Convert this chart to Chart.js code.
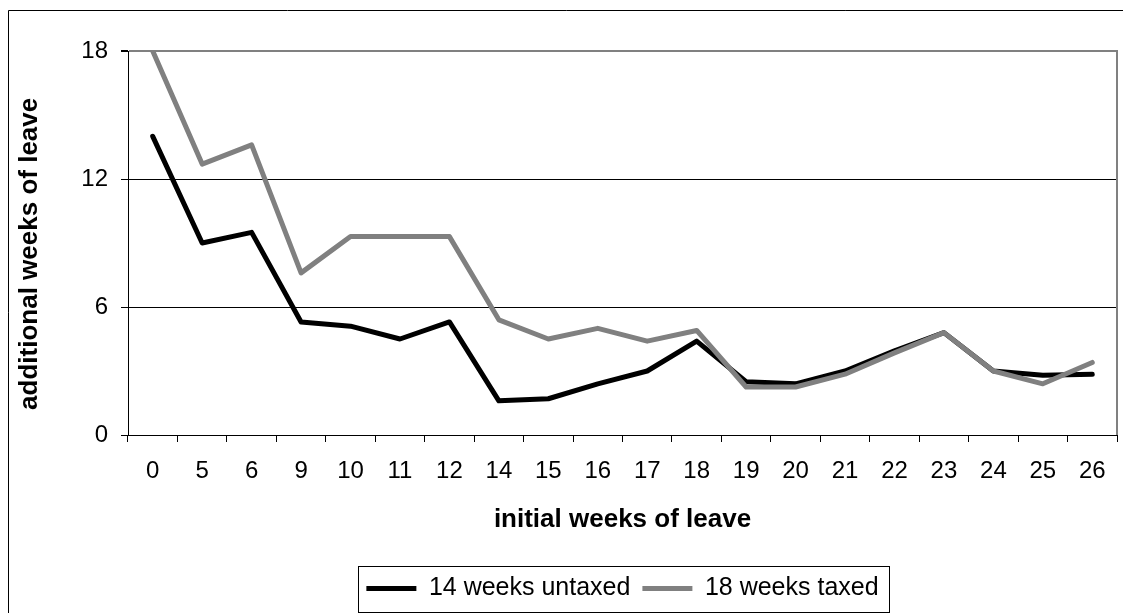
<!DOCTYPE html>
<html>
<head>
<meta charset="utf-8">
<script src="https://cdn.jsdelivr.net/npm/chart.js@4.4.1/dist/chart.umd.min.js"></script>
<style>
  html, body { margin: 0; padding: 0; background: #fff; }
  #wrap { width: 1123px; height: 613px; position: relative; }
</style>
</head>
<body>
<div id="wrap"><canvas id="c" width="1123" height="613"></canvas></div>
<script>
// Initial weeks of leave already taken (category axis)
const initialWeeks = ['0','5','6','9','10','11','12','14','15','16','17','18','19','20','21','22','23','24','25','26'];
// Additional weeks of leave, per scenario
const untaxed14 = [14.0, 9.0, 9.5, 5.3, 5.1, 4.5, 5.3, 1.6, 1.7, 2.4, 3.0, 4.4, 2.5, 2.4, 3.0, 3.95, 4.8, 3.0, 2.8, 2.85];
const taxed18   = [18.0, 12.7, 13.6, 7.6, 9.3, 9.3, 9.3, 5.4, 4.5, 5.0, 4.4, 4.9, 2.25, 2.25, 2.85, 3.85, 4.8, 3.0, 2.4, 3.4];
const yTicks = [0, 6, 12, 18];

const FONT = "'Liberation Sans', Arial, Helvetica, sans-serif";

// Frame around the whole chart, gray right edge of the plot, box around the legend
const framePlugin = {
  id: 'frames',
  beforeDraw(chart) {
    const ctx = chart.ctx;
    ctx.save();
    ctx.fillStyle = '#fff';
    ctx.fillRect(0, 0, chart.width, chart.height);
    ctx.strokeStyle = '#000';
    ctx.lineWidth = 1;
    ctx.beginPath();
    ctx.moveTo(8.5, chart.height + 2);
    ctx.lineTo(8.5, 10.5);
    ctx.lineTo(chart.width + 2, 10.5);
    ctx.stroke();
    ctx.restore();
  },
  afterDraw(chart) {
    const ctx = chart.ctx;
    const a = chart.chartArea;
    ctx.save();
    ctx.strokeStyle = '#808080';
    ctx.lineWidth = 2;
    ctx.beginPath();
    ctx.moveTo(a.right, a.top - 1);
    ctx.lineTo(a.right, a.bottom);
    ctx.stroke();
    const lg = chart.legend;
    if (lg && lg.legendHitBoxes && lg.legendHitBoxes.length) {
      const hb = lg.legendHitBoxes;
      const first = hb[0], last = hb[hb.length - 1];
      const left = Math.round(first.left - 8) + 0.5;
      const right = Math.round(last.left + last.width + 10) + 0.5;
      const cy = first.top + first.height / 2;
      const top = Math.round(cy - 23) + 0.5;
      const bottom = Math.round(cy + 23) + 0.5;
      ctx.strokeStyle = '#000';
      ctx.lineWidth = 1;
      ctx.strokeRect(left, top, right - left, bottom - top);
    }
    ctx.restore();
  }
};

new Chart(document.getElementById('c'), {
  type: 'line',
  data: {
    labels: initialWeeks,
    datasets: [
      {
        label: '14 weeks untaxed',
        data: untaxed14,
        borderColor: '#000000',
        backgroundColor: '#000000',
        borderWidth: 5,
        pointRadius: 0,
        pointStyle: 'line',
        borderJoinStyle: 'round',
        borderCapStyle: 'round',
        tension: 0,
        order: 1
      },
      {
        label: '18 weeks taxed',
        data: taxed18,
        borderColor: '#808080',
        backgroundColor: '#808080',
        borderWidth: 5,
        pointRadius: 0,
        pointStyle: 'line',
        borderJoinStyle: 'round',
        borderCapStyle: 'round',
        tension: 0,
        order: 0
      }
    ]
  },
  options: {
    responsive: false,
    animation: false,
    devicePixelRatio: 1,
    layout: { padding: { left: 0, right: 6, top: 51, bottom: 2 } },
    plugins: {
      tooltip: { enabled: false },
      title: { display: false },
      legend: {
        position: 'bottom',
        fullSize: false,
        labels: {
          sort: (a, b) => a.datasetIndex - b.datasetIndex,
          usePointStyle: true,
          pointStyleWidth: 50,
          boxHeight: 25,
          padding: 12,
          color: '#000',
          font: { family: FONT, size: 25 }
        }
      }
    },
    scales: {
      x: {
        type: 'category',
        offset: true,
        afterFit(scale) { scale.height = 129; },
        grid: {
          offset: true,
          drawOnChartArea: false,
          drawTicks: true,
          tickLength: 7,
          tickColor: '#000',
          color: '#000'
        },
        border: { color: '#000', width: 1 },
        ticks: {
          color: '#000',
          padding: 15,
          autoSkip: false,
          maxRotation: 0,
          font: { family: FONT, size: 24 }
        },
        title: {
          display: true,
          text: 'initial weeks of leave',
          color: '#000',
          padding: { top: 0, bottom: 29 },
          font: { family: FONT, size: 26, weight: 'bold' }
        }
      },
      y: {
        min: 0,
        max: 18,
        afterFit(scale) { scale.width = 128; },
        afterBuildTicks(scale) { scale.ticks = yTicks.map(v => ({ value: v })); },
        grid: {
          color: (c) => (c.tick && c.tick.value === 18 ? '#808080' : '#000'),
          lineWidth: (c) => (c.tick && c.tick.value === 18 ? 2 : 1),
          tickColor: '#000',
          tickLength: 7,
          drawTicks: true
        },
        border: { color: '#000', width: 1 },
        ticks: {
          color: '#000',
          padding: 13,
          font: { family: FONT, size: 24 }
        },
        title: {
          display: true,
          text: 'additional weeks of leave   ',
          color: '#000',
          padding: { top: 14, bottom: 0 },
          font: { family: FONT, size: 26, weight: 'bold' }
        }
      }
    }
  },
  plugins: [framePlugin]
});
</script>
</body>
</html>
